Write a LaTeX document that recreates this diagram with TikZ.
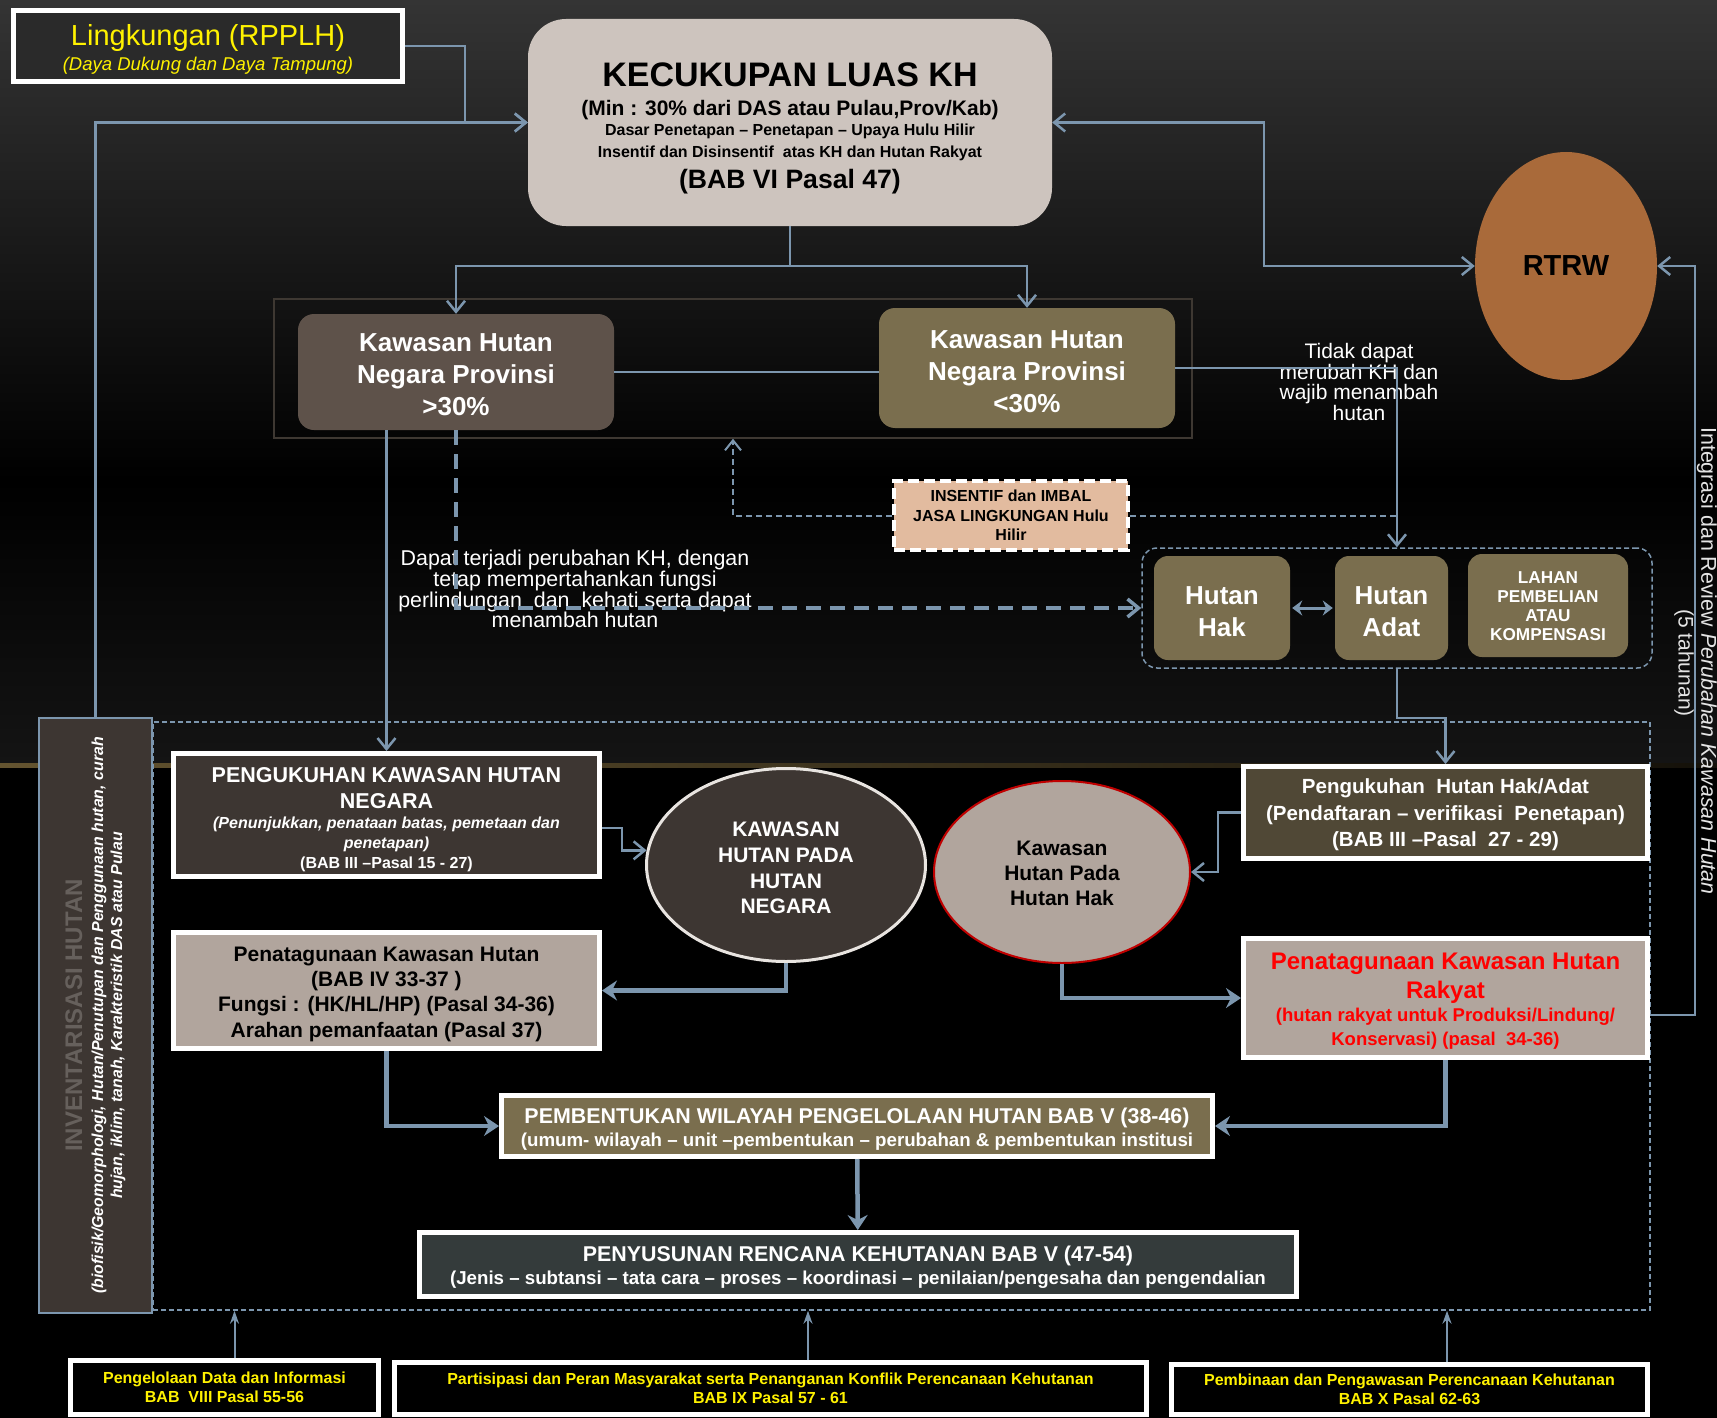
\documentclass[tikz,border=0pt]{standalone}
\usepackage{fontspec}
\setmainfont{Liberation Sans}
\usetikzlibrary{positioning,shapes.geometric,arrows.meta,calc}

\definecolor{lnblue}{RGB}{124,150,174}
\definecolor{bgtop}{RGB}{52,52,52}
\definecolor{bgmid}{RGB}{20,20,20}
\definecolor{glow}{RGB}{100,84,48}
\definecolor{lingfill}{RGB}{42,42,42}
\definecolor{khfill}{RGB}{205,196,190}
\definecolor{provA}{RGB}{94,82,74}
\definecolor{olivebx}{RGB}{122,110,78}
\definecolor{darkbr}{RGB}{61,54,50}
\definecolor{taupe}{RGB}{177,165,157}
\definecolor{hakfill}{RGB}{80,72,54}
\definecolor{slatebx}{RGB}{52,59,59}
\definecolor{peach}{RGB}{226,187,159}
\definecolor{rtrwfill}{RGB}{169,106,58}
\definecolor{redtx}{RGB}{255,0,0}
\definecolor{redbd}{RGB}{192,0,0}
\definecolor{invgray}{RGB}{102,96,92}
\definecolor{ltborder}{RGB}{232,228,224}
\definecolor{frmline}{RGB}{62,56,50}
\definecolor{ltgray}{RGB}{228,228,228}

\newcommand{\fsz}[2]{\fontsize{#1}{#2}\selectfont}
\newcommand{\txtlift}[1]{\rule{0pt}{#1pt}}

\tikzset{
  conn/.style={draw=lnblue, line width=2.5pt, -{Straight Barb[length=11pt,width=18pt]}},
  thick conn/.style={draw=lnblue, line width=4.5pt, -{Stealth[length=15pt,width=20pt,inset=5pt]}},
  plainln/.style={draw=lnblue, line width=2.5pt},
  dconn/.style={draw=lnblue, line width=2pt, dash pattern=on 6pt off 4pt, -{Straight Barb[length=10pt,width=16pt]}},
  dline/.style={draw=lnblue, line width=2pt, dash pattern=on 6pt off 4pt},
  bigdash/.style={draw=lnblue, line width=3.5pt, dash pattern=on 15pt off 9pt, -{Straight Barb[length=11pt,width=18pt]}},
  uarr/.style={draw=lnblue, line width=2pt, -{Stealth[length=13pt,width=9pt]}},
  dblarr/.style={draw=lnblue, line width=3pt, {Stealth[length=10pt,width=15pt]}-{Stealth[length=10pt,width=15pt]}, shorten <=2pt, shorten >=2pt},
  dframe/.style={draw=lnblue, line width=1.5pt, dash pattern=on 5pt off 3pt, inner sep=0pt},
  wbox/.style={draw=white, line width=5pt, align=center, inner sep=0pt},
  provbox/.style={rounded corners=16pt, align=center, text=white, inner sep=0pt, font={\fsz{26}{32}\bfseries}},
  txt/.style={text=white, align=center, inner sep=0pt},
  oval/.style={ellipse, align=center, inner sep=0pt}
}

\begin{document}
\lineskiplimit=-1000pt
\begin{tikzpicture}[x=1pt,y=-1pt]
\useasboundingbox (0,0) rectangle (1717,1418);
% BACKGROUND
\fill[black] (0,0) rectangle (1717,1418);
\shade[top color=bgtop, bottom color=black] (0,0) rectangle (1717,480);
\shade[top color=black, bottom color=bgmid] (0,480) rectangle (1717,764);
\shade[left color=glow, right color=black!80!glow] (0,763) rectangle (1717,767);

% FRAMES
\node[draw=frmline, line width=1.5pt, minimum width=918, minimum height=139] (provframe) at (733,368.5) {};
\node[dframe, rounded corners=15pt, minimum width=510, minimum height=120] (hakframe) at (1397,608) {};
\node[dframe, minimum width=1497, minimum height=588] (plan) at (901.5,1016) {};

% TOP
\node[draw=white, line width=5pt, fill=lingfill, text=yellow, align=center, inner sep=0pt,
      minimum width=389, minimum height=71, font={\fsz{18.5}{25}}] (lingk) at (208,46)
  {{\fsz{29}{25}\txtlift{27.8}Lingkungan (RPPLH)}\\\itshape (Daya Dukung dan Daya Tampung)};
\node[fill=khfill, rounded corners=38pt, align=center, inner sep=0pt,
      minimum width=524, minimum height=207, font={\fsz{16}{22}\bfseries}] (kh) at (790,122.5)
  {{\fsz{34}{22}\txtlift{35.4}KECUKUPAN LUAS KH}\\[7pt]
   {\fsz{21}{22}(Min : 30\% dari DAS atau Pulau,Prov/Kab)}\\[-2pt]
   Dasar Penetapan -- Penetapan -- Upaya Hulu Hilir\\
   Insentif dan Disinsentif\ \ atas KH dan Hutan Rakyat\\[9pt]
   {\fsz{26.6}{22}(BAB VI Pasal 47)}};
\node[oval, fill=rtrwfill, minimum width=182, minimum height=228, font={\fsz{29}{30}\bfseries}] (rtrw) at (1566,266) {RTRW};

\node[provbox, fill=provA, minimum width=316, minimum height=116] (prov1) at (456,372) {\txtlift{24}Kawasan Hutan\\Negara Provinsi\\>30\%};
\node[provbox, fill=olivebx, minimum width=296, minimum height=120] (prov2) at (1027,368) {\txtlift{25}Kawasan Hutan\\Negara Provinsi\\<30\%};
\node[txt, font={\fsz{21}{20.5}}] (tdk) at (1359,382) {Tidak dapat\\merubah KH dan\\wajib menambah\\hutan};

\node[draw=white, line width=4pt, dash pattern=on 11pt off 5pt, fill=peach, align=center, inner sep=0pt,
      minimum width=234, minimum height=69, font={\fsz{16}{19.5}\bfseries}] (insentif) at (1011,515.5)
  {INSENTIF dan IMBAL\\JASA LINGKUNGAN Hulu\\Hilir};
\node[txt, font={\fsz{21.4}{20.7}}] (dapat) at (575,589)
  {Dapat terjadi perubahan KH, dengan\\tetap mempertahankan fungsi\\perlindungan\ \ dan\ \ kehati serta dapat\\menambah hutan};

\node[provbox, fill=olivebx, rounded corners=14pt, minimum width=136, minimum height=104] (hhak) at (1222,608) {\txtlift{25}Hutan\\Hak};
\node[provbox, fill=olivebx, rounded corners=14pt, minimum width=113, minimum height=104] (hadat) at (1391.5,608) {\txtlift{25}Hutan\\Adat};
\node[provbox, fill=olivebx, rounded corners=14pt, minimum width=160, minimum height=103, font={\fsz{17.2}{19}\bfseries}] (lahan) at (1548,605.5) {\txtlift{14}LAHAN\\PEMBELIAN\\ATAU\\KOMPENSASI};

\node[rotate=-90, text=ltgray, inner sep=0pt, font={\fsz{21.4}{24}}] (integ) at (1707,661) {Integrasi dan Review \textit{Perubahan Kawasan Hutan}};
\node[rotate=-90, text=ltgray, inner sep=0pt, font={\fsz{21}{24}}] (tahun) at (1684,663) {(5 tahunan)};

% LOWER
\node[rotate=90, draw=lnblue, line width=2pt, fill=darkbr, align=center, text=white, inner sep=0pt,
      minimum width=595, minimum height=113, font={\fsz{15.9}{19}\bfseries\itshape}] (inv) at (95.5,1015.5)
  {{\upshape\fsz{24}{19}\color{invgray}INVENTARISASI HUTAN}\\[2pt]
   (biofisik/Geomorphologi, Hutan/Penutupan dan Penggunaan hutan, curah\\
   hujan, iklim, tanah, Karakteristik DAS atau Pulau};

\node[wbox, fill=darkbr, text=white, minimum width=426, minimum height=123, font={\fsz{16}{20}\bfseries}] (pkhn) at (386.5,815)
  {{\fsz{21.5}{20}\txtlift{23.5}PENGUKUHAN KAWASAN HUTAN}\\[6pt]
   {\fsz{21.5}{20}NEGARA}\\
   \textit{(Penunjukkan, penataan batas, pemetaan dan}\\
   \textit{penetapan)}\\
   (BAB III --Pasal 15 - 27)};
\node[wbox, fill=taupe, text=black, minimum width=426, minimum height=116, font={\fsz{21}{25.3}\bfseries}] (pnkh) at (386.5,990.5)
  {\txtlift{21.6}Penatagunaan Kawasan Hutan\\(BAB IV 33-37 )\\Fungsi : (HK/HL/HP) (Pasal 34-36)\\Arahan pemanfaatan (Pasal 37)};

\node[oval, draw=ltborder, line width=3pt, fill=darkbr, text=white, minimum width=279, minimum height=193, font={\fsz{21}{25.7}\bfseries}] (ekhn) at (786,865)
  {\txtlift{21}KAWASAN\\HUTAN PADA\\HUTAN\\NEGARA};
\node[oval, draw=redbd, line width=2pt, fill=taupe, text=black, minimum width=256, minimum height=182, font={\fsz{21}{25}\bfseries}] (ekhh) at (1062,872)
  {\txtlift{17}Kawasan\\Hutan Pada\\Hutan Hak};

\node[wbox, fill=hakfill, text=white, minimum width=404, minimum height=92, font={\fsz{20.5}{26.5}\bfseries}] (pkhh) at (1445.5,812.5)
  {\txtlift{20}Pengukuhan\ \ Hutan Hak/Adat\\(Pendaftaran -- verifikasi\ \ Penetapan)\\(BAB III --Pasal\ \ 27 - 29)};
\node[wbox, fill=taupe, text=redtx, minimum width=404, minimum height=119, font={\fsz{18.5}{23}\bfseries}] (pnkr) at (1445.5,998)
  {{\fsz{24}{23}\txtlift{22.6}Penatagunaan Kawasan Hutan}\\[6pt]
   {\fsz{24}{23}Rakyat}\\[-0.5pt]
   (hutan rakyat untuk Produksi/Lindung/\\[1pt]
   Konservasi) (pasal\ \ 34-36)};

\node[wbox, fill=olivebx, text=white, minimum width=711, minimum height=61, font={\fsz{18.7}{23}\bfseries}] (pwph) at (857,1126)
  {{\fsz{21.4}{23}\txtlift{22}PEMBENTUKAN WILAYAH PENGELOLAAN HUTAN BAB V (38-46)}\\
   (umum- wilayah -- unit --pembentukan -- perubahan \& pembentukan institusi};
\node[wbox, fill=slatebx, text=white, minimum width=877, minimum height=64, font={\fsz{18.7}{23}\bfseries}] (prk) at (858,1264.5)
  {{\fsz{21.4}{23}\txtlift{21.2}PENYUSUNAN RENCANA KEHUTANAN BAB V (47-54)}\\
   (Jenis -- subtansi -- tata cara -- proses -- koordinasi -- penilaian/pengesaha dan pengendalian};

% BOTTOM
\node[wbox, fill=black, text=yellow, minimum width=308, minimum height=54, font={\fsz{16}{19}\bfseries}] (bdata) at (224.5,1387.5)
  {Pengelolaan Data dan Informasi\\BAB\ \ VIII Pasal 55-56};
\node[wbox, fill=black, text=yellow, minimum width=752, minimum height=52, font={\fsz{16}{19}\bfseries}] (bpart) at (770.5,1388.5)
  {Partisipasi dan Peran Masyarakat serta Penanganan Konflik Perencanaan Kehutanan\\BAB IX Pasal 57 - 61};
\node[wbox, fill=black, text=yellow, minimum width=476, minimum height=50, font={\fsz{16}{19}\bfseries}] (bbina) at (1409.5,1389.5)
  {Pembinaan dan Pengawasan Perencanaan Kehutanan\\BAB X Pasal 62-63};

% CONNECTORS TOP
\draw[conn] (lingk.east) -- ++(60,0) |- (kh.west);
\draw[conn] (inv.east) |- (kh.west);
\draw[conn] (kh.south) -- ++(0,40) coordinate (khsplit) -| (prov1.north);
\draw[conn] (khsplit) -| (prov2.north);
\draw[conn, {Straight Barb[length=11pt,width=18pt]}-{Straight Barb[length=11pt,width=18pt]}] (kh.east) -- ++(212,0) |- (rtrw.west);
\draw[plainln] (prov1.east) -- (prov1.east -| prov2.west);
\draw[conn] (prov2.east) -| (hakframe.north);
\draw[dconn] (insentif.west) -| (provframe.south);
\draw[dline] (insentif.east) -- (insentif.east -| hakframe.north);
\draw[bigdash] (prov1.south) |- (hakframe.west);
\draw[conn] (prov1.south -| pkhn.north) -- (pkhn.north);
\draw[dblarr] (hhak) -- (hadat);
\draw[conn] (hakframe.south) -- ++(0,49) -| (pkhh.north);

% CONNECTORS LOWER
\draw[conn] ($(pkhn.east)+(0,13)$) -- ++(20,0) |- (ekhn.174);
\draw[thick conn] (ekhn.south) |- (pnkh.east);
\draw[thick conn] (pnkh.south) |- (pwph.west);
\draw[conn] (pkhh.west) -- ++(-23,0) |- (ekhh.east);
\draw[thick conn] (ekhh.south) |- (pnkr.west);
\draw[thick conn] (pnkr.south) |- (pwph.east);
\draw[thick conn] (pwph) -- (prk);
\draw[conn] ($(pnkr.east)+(0,17)$) -- ++(45,0) |- (rtrw.east);

% CONNECTORS BOTTOM
\coordinate (dataup) at ([xshift=10pt]bdata.north);
\coordinate (partup) at ([xshift=37.5pt]bpart.north);
\coordinate (binaup) at ([xshift=37.5pt]bbina.north);
\draw[uarr] (dataup) -- (dataup |- plan.south);
\draw[uarr] (partup) -- (partup |- plan.south);
\draw[uarr] (binaup) -- (binaup |- plan.south);
\end{tikzpicture}
\end{document}
